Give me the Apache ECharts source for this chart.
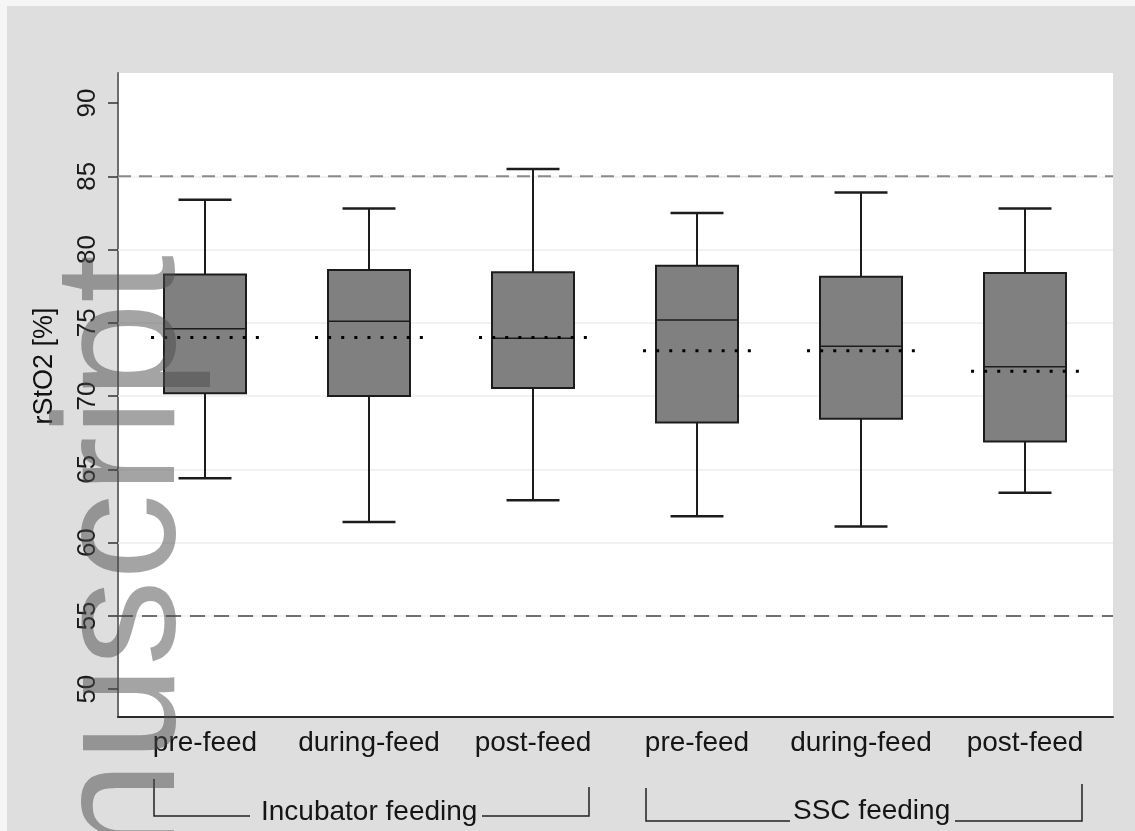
<!DOCTYPE html>
<html><head><meta charset="utf-8">
<script src="https://cdn.jsdelivr.net/npm/echarts@6/dist/echarts.min.js"></script>
<style>html,body{margin:0;padding:0;background:#fff}#c{width:1135px;height:831px}</style>
</head><body><div id="c"></div>
<script>
// ---- data ----
const categories = ['pre-feed','during-feed','post-feed','pre-feed','during-feed','post-feed'];
const groupLabels = ['Incubator feeding','SSC feeding'];
const whiskerLow  = [64.4, 61.4, 62.9, 61.8, 61.1, 63.4];
const q1          = [70.2, 70.0, 70.55, 68.2, 68.45, 66.9];
const median      = [74.6, 75.1, 73.95, 75.2, 73.4, 72.0];
const q3          = [78.3, 78.6, 78.45, 78.9, 78.15, 78.4];
const whiskerHigh = [83.4, 82.8, 85.5, 82.5, 83.9, 82.8];
const mean        = [74.0, 74.0, 74.0, 73.1, 73.1, 71.7];
const yTicks = [50,55,60,65,70,75,80,85,90];
const gridValues = [55,60,65,70,75,80,85];
const upperRef = 85, lowerRef = 55;
const yTitle = 'rStO2 [%]';
const watermark = 'Manuscript';
const yMinV = 48.1, yMaxV = 92.05;

const FONT = 'Liberation Sans, Arial, Helvetica, sans-serif';
const boxData = categories.map((c,i)=>[i, whiskerLow[i], q1[i], median[i], q3[i], whiskerHigh[i], mean[i]]);

function renderBox(params, api){
  const i = api.value(0);
  const band = api.size([1,0])[0];
  const cx = api.coord([i, api.value(3)])[0];
  const yv = k => api.coord([i, api.value(k)])[1];
  const yMin=yv(1), yQ1=yv(2), yMed=yv(3), yQ3=yv(4), yMax=yv(5), yMean=yv(6);
  const bw = band*0.5, cw = band*0.323, mw = band*0.658;
  const st = {stroke:'#1c1c1c', lineWidth:2};
  return {type:'group', children:[
    {type:'line', shape:{x1:cx,y1:yMax,x2:cx,y2:yQ3}, style:st},
    {type:'line', shape:{x1:cx,y1:yQ1,x2:cx,y2:yMin}, style:st},
    {type:'line', shape:{x1:cx-cw/2,y1:yMax,x2:cx+cw/2,y2:yMax}, style:{stroke:'#1c1c1c',lineWidth:2.5}},
    {type:'line', shape:{x1:cx-cw/2,y1:yMin,x2:cx+cw/2,y2:yMin}, style:{stroke:'#1c1c1c',lineWidth:2.5}},
    {type:'rect', shape:{x:cx-bw/2,y:yQ3,width:bw,height:yQ1-yQ3}, style:{fill:'#808080',stroke:'#1c1c1c',lineWidth:2}},
    {type:'line', shape:{x1:cx-bw/2,y1:yMed,x2:cx+bw/2,y2:yMed}, style:{stroke:'#1c1c1c',lineWidth:1.5}},
    {type:'line', shape:{x1:cx-mw/2,y1:yMean,x2:cx+mw/2,y2:yMean}, style:{stroke:'#000',lineWidth:3,lineDash:[3,10.1]}}
  ]};
}

const chart = echarts.init(document.getElementById('c'), null, {renderer:'canvas'});
const option = {
  backgroundColor:'#dedede',
  animation:false,
  grid:[
    {left:118, right:22, top:73, bottom:114, show:true, backgroundColor:'#ffffff', borderWidth:0},
    {left:123, right:28, top:73, bottom:114}
  ],
  xAxis:[
    {gridIndex:0, type:'value', min:0, max:1,
     axisLine:{show:true, onZero:false, lineStyle:{color:'#2a2a2a', width:2}},
     axisTick:{show:false}, axisLabel:{show:false}, splitLine:{show:false}},
    {gridIndex:1, type:'category', data:categories,
     axisLine:{show:false}, axisTick:{show:false},
     axisLabel:{interval:0, fontSize:28, color:'#151515', margin:12, fontFamily:FONT}}
  ],
  yAxis:[
    {gridIndex:0, type:'value', min:yMinV, max:yMaxV,
     axisLine:{show:true, onZero:false, lineStyle:{color:'#6e6e6e', width:2}},
     axisTick:{show:true, length:10, customValues:yTicks, lineStyle:{color:'#333', width:1.5}},
     axisLabel:{customValues:yTicks, rotate:90, fontSize:26, margin:17, color:'#1a1a1a', fontFamily:FONT},
     splitLine:{show:false}},
    {gridIndex:1, type:'value', min:yMinV, max:yMaxV, show:false, splitLine:{show:false}}
  ],
  series:[
    {type:'line', xAxisIndex:0, yAxisIndex:0, data:[[0,upperRef],[1,upperRef]], symbol:'none', silent:true,
     lineStyle:{color:'#8a8a8a', width:2, type:[13,8]},
     markLine:{silent:true, symbol:'none', label:{show:false}, z:1,
       lineStyle:{color:'#eeeeee', width:1.5, type:'solid'},
       data:gridValues.map(v=>({yAxis:v}))}, z:3},
    {type:'line', xAxisIndex:0, yAxisIndex:0, data:[[0,lowerRef],[1,lowerRef]], symbol:'none', silent:true,
     lineStyle:{color:'#444444', width:1.5, type:[15,9]}, z:3},
    {type:'custom', xAxisIndex:1, yAxisIndex:1, data:boxData, renderItem:renderBox, z:5,
     encode:{x:0, y:[1,2,3,4,5,6]}}
  ],
  graphic:[
    {type:'rect', shape:{x:0,y:0,width:1135,height:6}, style:{fill:'#f6f6f6'}, z:0},
    {type:'rect', shape:{x:0,y:0,width:7,height:831}, style:{fill:'#f6f6f6'}, z:0},
    {type:'text', x:45, y:366, rotation:Math.PI/2,
     style:{text:yTitle, fontSize:27, fontFamily:FONT, fill:'#111', align:'center', verticalAlign:'middle'}},
    {type:'polyline', shape:{points:[[154,779],[154,816],[250,816]]}, style:{stroke:'#222', lineWidth:1.5, fill:null}},
    {type:'polyline', shape:{points:[[482,816],[589,816],[589,787]]}, style:{stroke:'#222', lineWidth:1.5, fill:null}},
    {type:'polyline', shape:{points:[[646,788],[646,821],[790,821]]}, style:{stroke:'#222', lineWidth:1.5, fill:null}},
    {type:'polyline', shape:{points:[[955,821],[1082,821],[1082,784]]}, style:{stroke:'#222', lineWidth:1.5, fill:null}},
    {type:'text', x:261, y:812, style:{text:groupLabels[0], fontSize:28, fontFamily:FONT, fill:'#151515', align:'left', verticalAlign:'middle'}},
    {type:'text', x:793, y:811, style:{text:groupLabels[1], fontSize:28, fontFamily:FONT, fill:'#151515', align:'left', verticalAlign:'middle'}},
    {type:'text', x:127, y:255, rotation:Math.PI/2, z:100,
     style:{text:watermark, fontSize:172, fontFamily:FONT, fill:'rgba(74,74,74,0.5)', align:'right', verticalAlign:'middle'}}
  ]
};
chart.setOption(option);
</script></body></html>
